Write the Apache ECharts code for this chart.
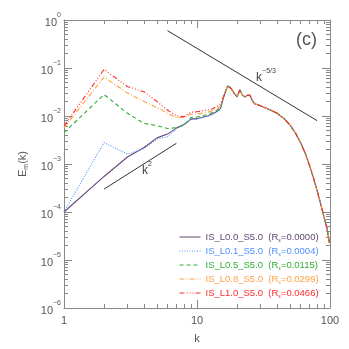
<!DOCTYPE html>
<html>
<head>
    <meta charset="utf-8">
    <script type="text/javascript" src="https://cdn.jsdelivr.net/npm/echarts@6/dist/echarts.min.js"></script>
    <style>
        html, body { margin: 0; padding: 0; background: #fff; }
    </style>
</head>
<body>
    <div id="main" style="width: 349px;height:349px;"></div>
    <script type="text/javascript">
    // low-k part, one per run
    let kLow = [1, 2, 3, 4, 5, 6, 7, 8, 9, 10, 11, 12, 13, 14, 15]
    let eL00 = [1e-4, 5.5e-4, 1.4e-3, 2.2e-3, 3.5e-3, 4.2e-3, 5.6e-3, 6.7e-3, 8.6e-3, 8.8e-3, 9.4e-3, 1.0e-2, 1.1e-2, 1.22e-2, 1.42e-2]
    let eL01 = [1e-4, 2.8e-3, 1.6e-3, 2.1e-3, 3.3e-3, 3.7e-3, 5.4e-3, 6.6e-3, 8.5e-3, 8.6e-3, 9.3e-3, 9.9e-3, 1.08e-2, 1.2e-2, 1.4e-2]
    let eL05 = [4.5e-3, 2.8e-2, 1.14e-2, 7e-3, 6.3e-3, 5.5e-3, 5.7e-3, 6.4e-3, 9.3e-3, 9.5e-3, 1.02e-2, 1.07e-2, 1.18e-2, 1.3e-2, 1.5e-2]
    let eL08 = [5.7e-3, 6.5e-2, 3.0e-2, 2.0e-2, 1.5e-2, 1.14e-2, 9.3e-3, 9.3e-3, 1.1e-2, 1.1e-2, 1.15e-2, 1.2e-2, 1.28e-2, 1.4e-2, 1.62e-2]
    let eL10 = [6.2e-3, 9.3e-2, 4.1e-2, 3.2e-2, 2.0e-2, 1.33e-2, 1.0e-2, 9.7e-3, 1.2e-2, 1.23e-2, 1.29e-2, 1.33e-2, 1.4e-2, 1.57e-2, 1.8e-2]
    // high-k part, the runs sit on top of each other here
    let kTail = [16, 17, 18, 19, 20, 21, 22, 23, 24, 25, 26, 27, 28, 30, 35, 40, 45, 50, 55, 60, 65, 70, 75, 80, 85, 90, 95, 99]
    let eTail = [2.7e-2, 4.2e-2, 3.8e-2, 3.0e-2, 2.5e-2, 3.5e-2, 2.7e-2, 2.5e-2, 2.7e-2, 2.7e-2, 2.15e-2, 1.8e-2, 1.75e-2, 1.63e-2, 1.37e-2, 1.14e-2, 8.9e-3, 6.5e-3, 4.4e-3, 2.8e-3, 1.7e-3, 9.5e-4, 5.2e-4, 2.8e-4, 1.5e-4, 8e-5, 4.5e-5, 2.3e-5]

    let runNames = ['IS_L0.0_S5.0', 'IS_L0.1_S5.0', 'IS_L0.5_S5.0', 'IS_L0.8_S5.0', 'IS_L1.0_S5.0']
    let runR = ['0.0000', '0.0004', '0.0115', '0.0299', '0.0466']
    let runColors = ['#654676', '#4d90ff', '#2fae2f', '#ffa040', '#ff2b2b']
    let runDash = ['solid', [1, 1.5], [4, 3], [5, 2, 1, 2], [5, 2, 1, 2, 1, 2, 1, 2]]
    let runLow = [eL00, eL01, eL05, eL08, eL10]

    // power law guide lines, end points
    let slopeA = [[6, 0.6], [80, 0.008]]   // k^-5/3
    let slopeB = [[2, 3e-4], [7, 2.7e-3]]  // k^2

    let xDecades = [0, 1]                  // log10 of 1, 10
    let yDecades = [-6, -5, -4, -3, -2, -1]
    let minorMult = [2, 3, 4, 5, 6, 7, 8, 9]

    let _font = 'Liberation Sans'
    let _axisColor = '#888'
    let _textColor = '#555'

    // minor tick places, in log10 units, for the overlay value axes
    function minors(decades) {
        let out = []
        decades.forEach(d => minorMult.forEach(m => out.push(d + Math.log10(m))))
        return out
    }

    function pairs(ks, es) {
        return ks.map((k, i) => [k, es[i]])
    }

    let supRich = {
        b: { fontSize: 11, color: _textColor, fontFamily: _font, verticalAlign: 'bottom', lineHeight: 16 },
        s: { fontSize: 7, color: _textColor, fontFamily: _font, verticalAlign: 'top', lineHeight: 16 }
    }

    function xLog(pos, withLabel) {
        return {
            type: 'log', logBase: 10, min: 1, max: 100, position: pos,
            axisLine: { show: true, onZero: false, lineStyle: { color: _axisColor, width: 1 } },
            axisTick: { show: true, inside: true, length: 8, lineStyle: { color: _axisColor } },
            axisLabel: {
                show: withLabel, margin: 7, color: _textColor, fontFamily: _font, fontSize: 11,
                formatter: v => String(Math.round(v))
            },
            splitLine: { show: false },
            name: withLabel ? 'k' : '',
            nameLocation: 'middle', nameGap: 25,
            nameTextStyle: { color: _textColor, fontFamily: _font, fontSize: 11 }
        }
    }
    function xMinor(pos) {
        return {
            type: 'value', min: 0, max: 2, position: pos,
            axisLine: { show: false, onZero: false },
            axisTick: { show: true, inside: true, length: 4, customValues: minors(xDecades), lineStyle: { color: _axisColor } },
            axisLabel: { show: false },
            splitLine: { show: false }
        }
    }

    function yLog(pos, withLabel) {
        return {
            type: 'log', logBase: 10, min: 1e-6, max: 1, position: pos,
            axisLine: { show: true, onZero: false, lineStyle: { color: _axisColor, width: 1 } },
            axisTick: { show: true, inside: true, length: 8, lineStyle: { color: _axisColor } },
            axisLabel: {
                show: withLabel, margin: 3,
                formatter: v => '{b|10}{s|' + Math.round(Math.log10(v)).toString().replace('-', '\u2212') + '}',
                rich: supRich
            },
            splitLine: { show: false },
            name: withLabel ? 'E{sub|m}(k)' : '',
            nameLocation: 'middle', nameGap: 25,
            nameTextStyle: {
                color: _textColor, fontFamily: _font, fontSize: 11,
                rich: { sub: { fontSize: 7, color: _textColor, fontFamily: _font, verticalAlign: 'bottom', lineHeight: 14 } }
            }
        }
    }
    function yMinor(pos) {
        return {
            type: 'value', min: -6, max: 0, position: pos,
            axisLine: { show: false, onZero: false },
            axisTick: { show: true, inside: true, length: 4, customValues: minors(yDecades), lineStyle: { color: _axisColor } },
            axisLabel: { show: false },
            splitLine: { show: false }
        }
    }

    function draw() {
        let myChart = echarts.init(document.getElementById('main'), null, { renderer: 'canvas' })

        // purple first, red last so red is on top like the reference
        let series = runNames.map((name, i) => ({
            name: name,
            type: 'line',
            symbol: 'none',
            xAxisIndex: 0, yAxisIndex: 0,
            color: runColors[i],
            lineStyle: { width: 1.1, type: runDash[i], color: runColors[i] },
            data: pairs(kLow, runLow[i]).concat(pairs(kTail, eTail)),
            z: 3 + i
        }))

        let guideRich = {
            b: { fontSize: 12, color: '#444', fontFamily: _font, verticalAlign: 'bottom', lineHeight: 16 },
            s: { fontSize: 7, color: '#444', fontFamily: _font, verticalAlign: 'top', lineHeight: 16 }
        }
        series.push({
            name: 'k53', type: 'line', symbol: 'none', silent: true,
            lineStyle: { width: 1, color: '#333' },
            data: slopeA,
            markPoint: {
                symbol: 'circle', symbolSize: 1, itemStyle: { color: 'rgba(0,0,0,0)' },
                data: [{ coord: [33, 0.068] }],
                label: { show: true, position: 'inside', formatter: '{b|k}{s|\u22125/3}', rich: guideRich }
            }
        })
        series.push({
            name: 'k2', type: 'line', symbol: 'none', silent: true,
            lineStyle: { width: 1, color: '#333' },
            data: slopeB,
            markPoint: {
                symbol: 'circle', symbolSize: 1, itemStyle: { color: 'rgba(0,0,0,0)' },
                data: [{ coord: [4.2, 8e-4] }],
                label: { show: true, position: 'inside', formatter: '{b|k}{s|2}', rich: guideRich }
            }
        })

        let option = {
            animation: false,
            backgroundColor: '#fff',
            grid: { left: 64, top: 20, right: 19, bottom: 41, containLabel: false },
            xAxis: [xLog('bottom', true), xLog('top', false), xMinor('bottom'), xMinor('top')],
            yAxis: [yLog('left', true), yLog('right', false), yMinor('left'), yMinor('right')],
            legend: {
                show: true,
                orient: 'vertical',
                left: 174, top: 226,
                itemWidth: 21, itemHeight: 8, itemGap: 2,
                selectedMode: false,
                itemStyle: { opacity: 0 },
                lineStyle: { width: 1 },
                data: runNames.map((n, i) => ({ name: n, textStyle: { color: runColors[i] } })),
                formatter: name => {
                    let i = runNames.indexOf(name)
                    return name + '  (R{sub|\u03b5}=' + runR[i] + ')'
                },
                textStyle: {
                    fontFamily: _font, fontSize: 9.5, lineHeight: 12,
                    rich: { sub: { fontSize: 5.5, verticalAlign: 'bottom', lineHeight: 12 } }
                }
            },
            graphic: [{
                type: 'text', left: 296, top: 31,
                style: { text: '(c)', fill: _textColor, font: '18px "Liberation Sans"' }
            }],
            series: series
        }
        myChart.setOption(option)
    }
    draw()
    </script>
</body>
</html>
